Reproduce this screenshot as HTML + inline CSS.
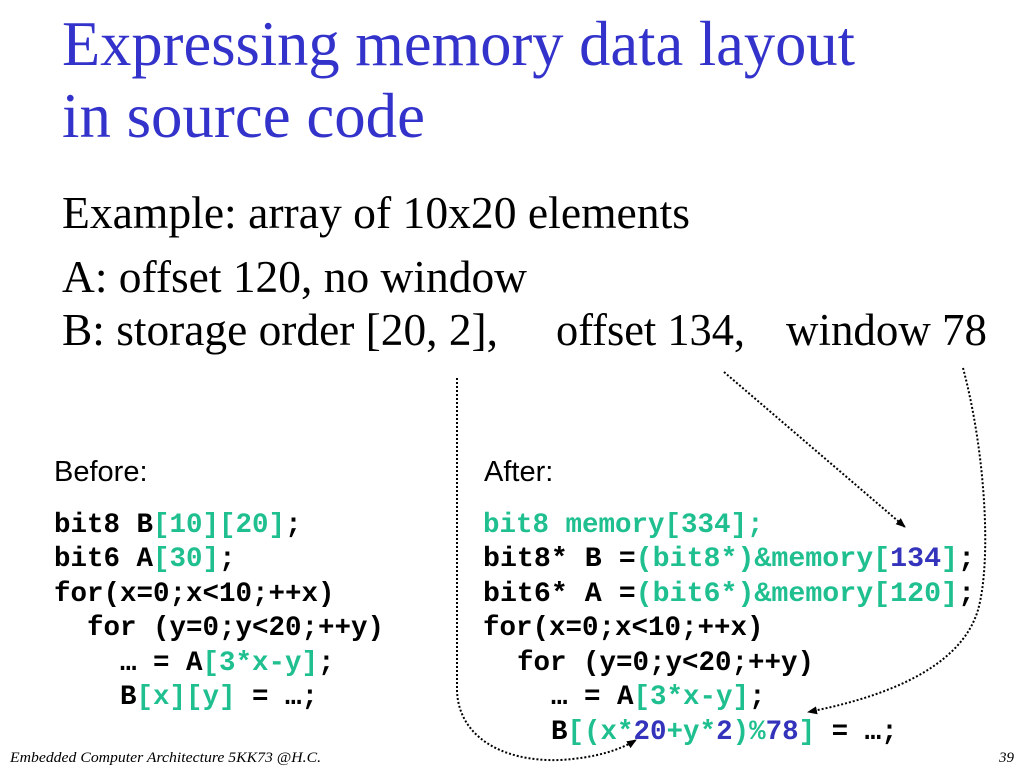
<!DOCTYPE html>
<html><head><meta charset="utf-8"><style>
html,body{margin:0;padding:0;background:#fff;}
svg{display:block;}
.t{font-family:"Liberation Serif",serif;fill:#3333cc;font-size:64px;}
.s{font-family:"Liberation Serif",serif;fill:#000;font-size:45px;}
.h{font-family:"Liberation Sans",sans-serif;fill:#000;font-size:29px;}
.c{font-family:"Liberation Mono",monospace;font-weight:bold;font-size:27.5px;fill:#000;white-space:pre;}
.g{fill:#1fbf8f;}
.b{fill:#3333bb;}
.f{font-family:"Liberation Serif",serif;font-style:italic;font-size:15px;fill:#000;}
.d{fill:none;stroke:#000;stroke-width:2;stroke-dasharray:2 2;}
</style></head><body>
<svg width="1024" height="768" viewBox="0 0 1024 768" xmlns="http://www.w3.org/2000/svg">
<defs><marker id="ah" markerWidth="10" markerHeight="10" refX="9" refY="5" orient="auto" markerUnits="userSpaceOnUse"><path d="M0,1 L10,5 L0,9 Z" fill="#000"/></marker></defs>
<text class="t" x="62" y="65" textLength="793" lengthAdjust="spacingAndGlyphs">Expressing memory data layout</text>
<text class="t" x="62" y="137" textLength="363" lengthAdjust="spacingAndGlyphs">in source code</text>
<text class="s" x="62" y="228" textLength="628" lengthAdjust="spacingAndGlyphs">Example: array of 10x20 elements</text>
<text class="s" x="62" y="292" textLength="465" lengthAdjust="spacingAndGlyphs">A: offset 120, no window</text>
<text class="s" x="62" y="345" textLength="436" lengthAdjust="spacingAndGlyphs">B: storage order [20, 2],</text>
<text class="s" x="556" y="345" textLength="189" lengthAdjust="spacingAndGlyphs">offset 134,</text>
<text class="s" x="786" y="345" textLength="201" lengthAdjust="spacingAndGlyphs">window 78</text>
<text class="h" x="54" y="481">Before:</text>
<text class="h" x="484" y="481">After:</text>

<text class="c" x="54" y="532">bit8 B<tspan class="g">[10][20]</tspan>;</text>
<text class="c" x="54" y="566">bit6 A<tspan class="g">[30]</tspan>;</text>
<text class="c" x="54" y="601">for(x=0;x&lt;10;++x)</text>
<text class="c" x="87" y="635">for (y=0;y&lt;20;++y)</text>
<text class="c" x="120" y="670">… = A<tspan class="g">[3*x-y]</tspan>;</text>
<text class="c" x="120" y="704">B<tspan class="g">[x][y]</tspan> = …;</text>

<text class="c" x="483" y="532"><tspan class="g">bit8 memory[334];</tspan></text>
<text class="c" x="483" y="566" textLength="492" lengthAdjust="spacingAndGlyphs">bit8* B =<tspan class="g">(bit8*)&amp;memory[</tspan><tspan class="b">134</tspan><tspan class="g">]</tspan>;</text>
<text class="c" x="483" y="601" textLength="492" lengthAdjust="spacingAndGlyphs">bit6* A =<tspan class="g">(bit6*)&amp;memory[120]</tspan>;</text>
<text class="c" x="483" y="635">for(x=0;x&lt;10;++x)</text>
<text class="c" x="517" y="670">for (y=0;y&lt;20;++y)</text>
<text class="c" x="551" y="704">… = A<tspan class="g">[3*x-y]</tspan>;</text>
<text class="c" x="551" y="739">B<tspan class="g">[(x*</tspan><tspan class="b">20</tspan><tspan class="g">+y*</tspan><tspan class="b">2</tspan><tspan class="g">)%</tspan><tspan class="b">78</tspan><tspan class="g">]</tspan> = …;</text>

<path class="d" d="M457,378 L457,690 C458,735 500,762 560,760 C595,758 620,750 636,740" marker-end="url(#ah)"/>
<path class="d" d="M724,372 L905,527" marker-end="url(#ah)"/>
<path class="d" d="M963,368 C985,450 992,560 978,610 C960,670 880,698 808,712" marker-end="url(#ah)"/>

<text class="f" x="10" y="762" textLength="311" lengthAdjust="spacingAndGlyphs">Embedded Computer Architecture 5KK73 @H.C.</text>
<text class="f" x="999" y="762">39</text>
</svg>
</body></html>
